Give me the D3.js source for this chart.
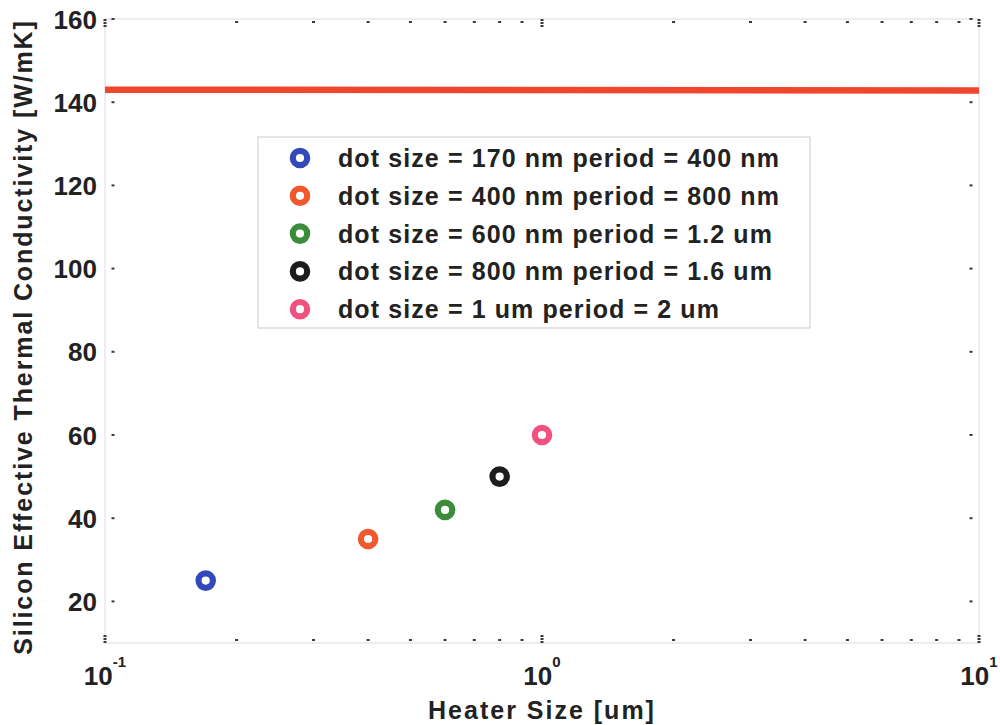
<!DOCTYPE html>
<html>
<head>
<meta charset="utf-8">
<script src="https://cdn.jsdelivr.net/npm/d3@7"></script>
<style>
  html, body { margin: 0; padding: 0; background: #fff; }
  svg { display: block; font-family: "Liberation Sans", Arial, sans-serif; font-weight: bold; }
</style>
</head>
<body>
<svg id="chart" width="1000" height="725"></svg>
<script>
// Heater size (um) vs. effective thermal conductivity (W/mK) of patterned silicon
const seriesLabels = [
  "dot size = 170 nm period = 400 nm",
  "dot size = 400 nm period = 800 nm",
  "dot size = 600 nm period = 1.2 um",
  "dot size = 800 nm period = 1.6 um",
  "dot size = 1 um period = 2 um"
];
const seriesColors = ["#3449b9", "#f2582e", "#3d8c3c", "#1c1c1c", "#f0517f"];
const heaterSize = [0.17, 0.4, 0.6, 0.8, 1.0];
const conductivity = [25, 35, 42, 50, 60];

// bulk silicon reference level
const bulkX = [0.1, 10];
const bulkY = [143, 142.8];

const yTicks = [20, 40, 60, 80, 100, 120, 140, 160];
const xMajorTicks = [0.1, 1, 10];
const xTickExp = ["-1", "0", "1"];
const xDomain = [0.1, 10];
const yDomain = [10, 160];

const svg = d3.select("#chart");
const L = 105, R = 979, T = 19, B = 643;

const x = d3.scaleLog().domain(xDomain).range([L, R]);
const y = d3.scaleLinear().domain(yDomain).range([B, T]);

// faint axes box
svg.append("rect")
  .attr("x", L).attr("y", T).attr("width", R - L).attr("height", B - T)
  .attr("fill", "none").attr("stroke", "#dfe2ec").attr("stroke-width", 1.2);

const tickColor = "#3a3a3a";
const dot = (g, cx, cy) => g.append("rect")
  .attr("x", cx - 1.5).attr("y", cy - 1).attr("width", 3).attr("height", 2)
  .attr("fill", tickColor);

const ticks = svg.append("g");
// minor log ticks (2..9 per decade), top and bottom, drawn as short dots
const minor = [];
for (let d = 0.1; d < 10; d *= 10) for (let k = 2; k <= 9; k++) minor.push(d * k);
minor.forEach(v => {
  dot(ticks, x(v), B - 3);
  dot(ticks, x(v), T + 3);
});
// major x ticks: short dotted stubs
xMajorTicks.forEach(v => {
  [1, 4, 7].forEach(o => {
    dot(ticks, x(v), B - o);
    dot(ticks, x(v), T + o);
  });
});
// y ticks on both sides
yTicks.forEach(v => {
  dot(ticks, L + 8, y(v));
  dot(ticks, R - 8, y(v));
});

// y tick labels
svg.append("g").selectAll("text").data(yTicks).join("text")
  .attr("x", L - 8).attr("y", d => y(d) + 9.5)
  .attr("text-anchor", "end")
  .attr("font-size", 26).attr("fill", "#222")
  .text(d => d);

// x tick labels with superscript exponent
const xl = svg.append("g").selectAll("text").data(xMajorTicks).join("text")
  .attr("x", d => x(d)).attr("y", 685)
  .attr("text-anchor", "middle")
  .attr("font-size", 26).attr("fill", "#222");
xl.append("tspan").text("10");
xl.append("tspan").attr("dy", -18).attr("font-size", 15).text((d, i) => xTickExp[i]);

// axis titles
svg.append("text")
  .attr("x", (L + R) / 2).attr("y", 719)
  .attr("text-anchor", "middle").attr("font-size", 25).attr("letter-spacing", 2)
  .attr("fill", "#222")
  .text("Heater Size [um]");
svg.append("text")
  .attr("transform", `translate(32, 337) rotate(-90)`)
  .attr("text-anchor", "middle").attr("font-size", 25).attr("letter-spacing", 1.9)
  .attr("fill", "#222")
  .text("Silicon Effective Thermal Conductivity [W/mK]");

// bulk line
svg.append("path")
  .datum(bulkX.map((v, i) => [v, bulkY[i]]))
  .attr("d", d3.line().x(d => x(d[0])).y(d => y(d[1])))
  .attr("stroke", "#f0462d").attr("stroke-width", 6.5).attr("fill", "none");

// data markers
svg.append("g").selectAll("circle").data(heaterSize).join("circle")
  .attr("cx", d => x(d))
  .attr("cy", (d, i) => y(conductivity[i]))
  .attr("r", 7.2)
  .attr("fill", "none")
  .attr("stroke", (d, i) => seriesColors[i])
  .attr("stroke-width", 6.2);

// legend
const lg = svg.append("g");
lg.append("rect")
  .attr("x", 258).attr("y", 137).attr("width", 552).attr("height", 191)
  .attr("fill", "#fff").attr("stroke", "#d4d4d8").attr("stroke-width", 1.2);
const rows = lg.selectAll("g.row").data(seriesLabels).join("g")
  .attr("transform", (d, i) => `translate(0, ${158 + i * 37.8})`);
rows.append("circle")
  .attr("cx", 300).attr("cy", 0).attr("r", 7.2)
  .attr("fill", "none").attr("stroke", (d, i) => seriesColors[i]).attr("stroke-width", 6.2);
rows.append("text")
  .attr("x", 338).attr("y", 9)
  .attr("font-size", 25).attr("letter-spacing", 1.1)
  .attr("fill", "#222")
  .text(d => d);
</script>
</body>
</html>
